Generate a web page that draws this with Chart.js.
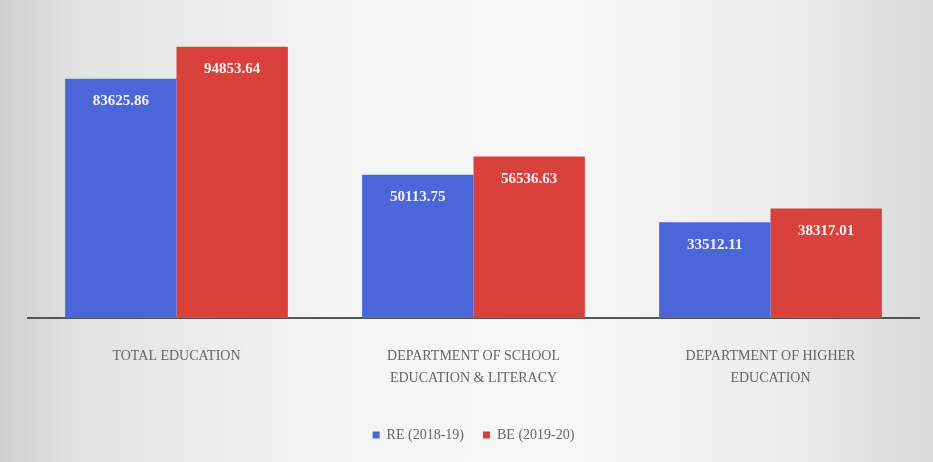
<!DOCTYPE html>
<html><head><meta charset="utf-8">
<script src="https://cdn.jsdelivr.net/npm/chart.js@4"></script>
<style>
html,body{margin:0;padding:0;}
body{width:933px;height:462px;overflow:hidden;background:linear-gradient(90deg,#cfcfcf 0%,#e2e2e2 8%,#f4f4f4 35%,#f7f7f7 60%,#ececec 85%,#d9d9d9 100%);}
#wrap{position:absolute;left:0;top:0;width:933px;height:462px;}
</style></head>
<body><div id="wrap"><canvas id="c"></canvas></div>
<script>
const categories = [["TOTAL EDUCATION"], ["DEPARTMENT OF SCHOOL", "EDUCATION & LITERACY"], ["DEPARTMENT OF HIGHER", "EDUCATION"]];
const seriesNames = ["RE (2018-19)", "BE (2019-20)"];
const reValues = [83625.86, 50113.75, 33512.11];
const beValues = [94853.64, 56536.63, 38317.01];
const colors = ["#4a66d8", "#d8423a"];

const labelPlugin = {
  id: 'barLabels',
  afterDatasetsDraw(chart) {
    const ctx = chart.ctx;
    ctx.save();
    ctx.font = 'bold 15px "Liberation Serif", serif';
    ctx.fillStyle = '#f4f0f4';
    ctx.textAlign = 'center';
    ctx.textBaseline = 'top';
    chart.data.datasets.forEach((ds, i) => {
      chart.getDatasetMeta(i).data.forEach((bar, j) => {
        ctx.fillText(ds.data[j].toFixed(2), bar.x, bar.y + 15);
      });
    });
    ctx.restore();
  }
};

new Chart(document.getElementById('c'), {
  type: 'bar',
  data: {
    labels: categories,
    datasets: [
      {label: seriesNames[0], data: reValues, backgroundColor: colors[0]},
      {label: seriesNames[1], data: beValues, backgroundColor: colors[1]}
    ]
  },
  options: {
    responsive: true,
    maintainAspectRatio: false,
    animation: false,
    layout: {padding: {left: 28, right: 14, top: 32, bottom: 10}},
    datasets: {bar: {categoryPercentage: 0.75, barPercentage: 1.0}},
    scales: {
      x: {
        grid: {display: false},
        border: {display: true, color: '#555', width: 2},
        ticks: {color: '#666', font: {family: '"Liberation Serif", serif', size: 14, lineHeight: 1.6}, padding: 19, maxRotation: 0}
      },
      y: {display: false, min: 0, max: 100000}
    },
    plugins: {
      legend: {
        position: 'bottom',
        labels: {boxWidth: 7, boxHeight: 7, color: '#666', font: {family: '"Liberation Serif", serif', size: 14}, padding: 19}
      },
      tooltip: {enabled: false}
    }
  },
  plugins: [labelPlugin]
});
</script></body></html>
